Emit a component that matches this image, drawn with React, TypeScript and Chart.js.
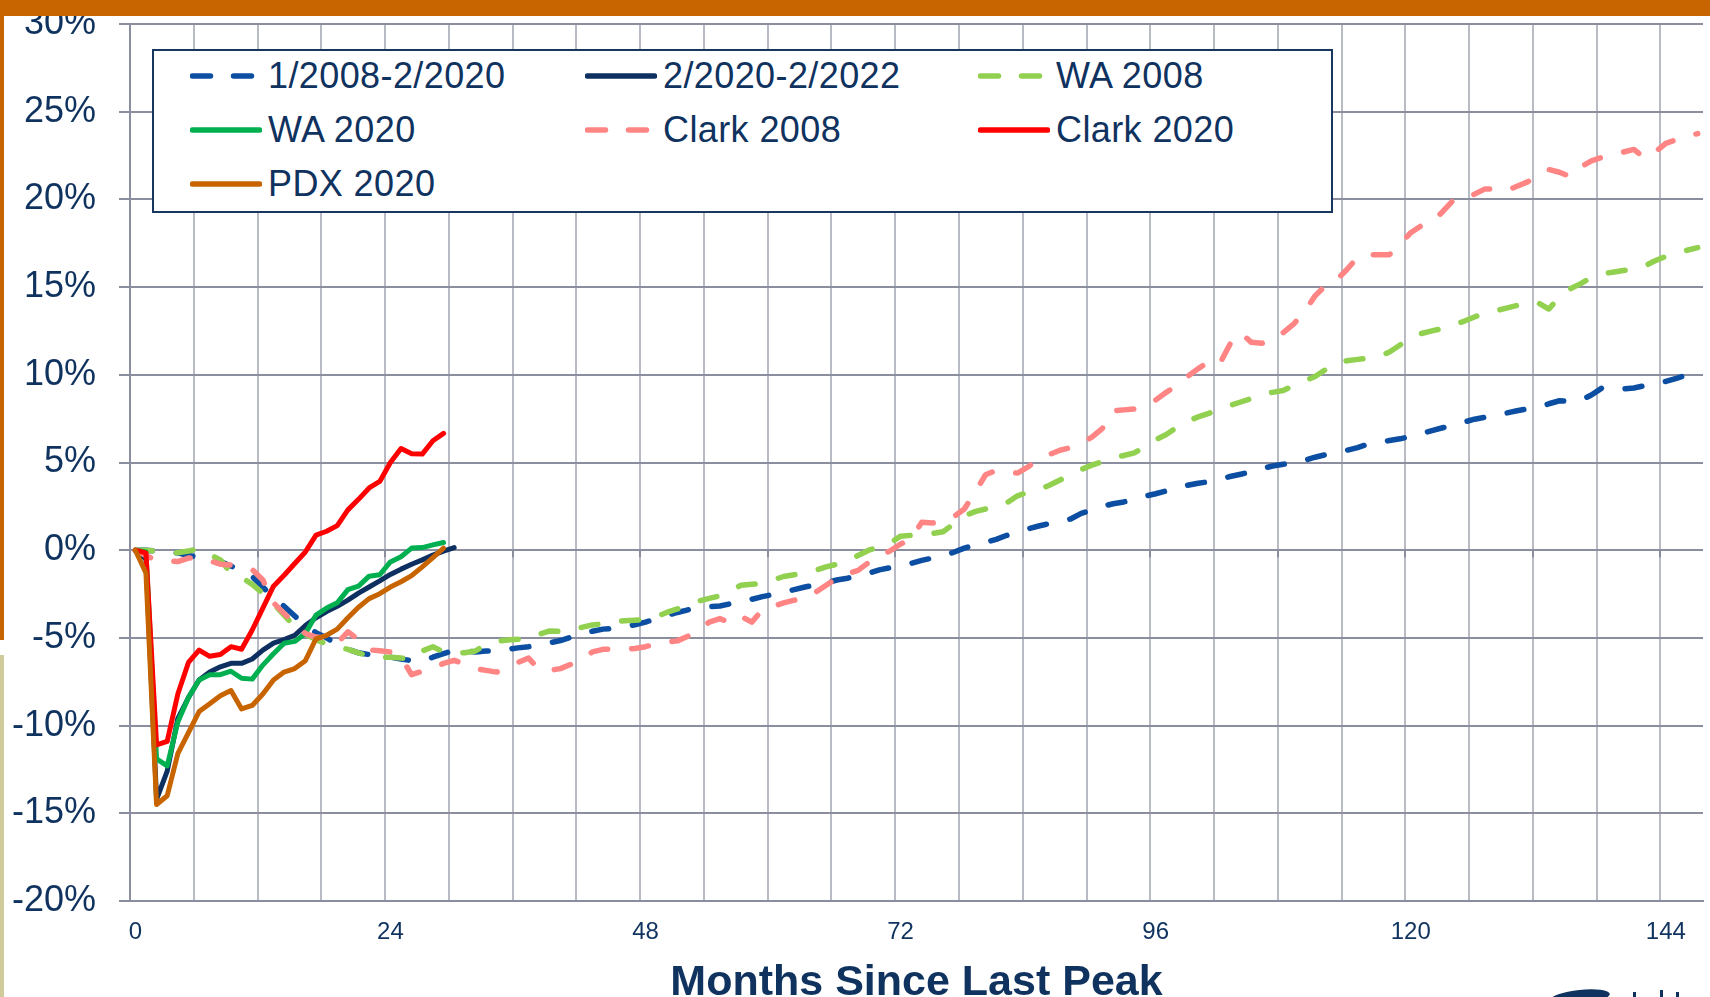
import React, { useEffect, useRef } from 'react';
import { Chart, registerables } from 'chart.js';

Chart.register(...registerables);

const FONT_FAMILY = '"Liberation Sans", Arial, Helvetica, sans-serif';
const TEXT_COLOR = '#0F325F';
const GRID_H = '#8B8E9F';
const GRID_V = '#B8BAC4';

// categories: months since last peak
const MONTHS: string[] = Array.from({ length: 148 }, (_, i) => String(i));
const X_LABEL_STEP = 24;
const X_GRID_STEP = 6;
const ZERO_TICK_STEP = 12;
const Y_MIN = -20;
const Y_MAX = 30;
const Y_STEP = 5;
const X_TITLE = 'Months Since Last Peak';

// % change from prior peak
const US_2008 = [
  0, 0, -0.05, -0.1, -0.15, -0.3, -0.4, -0.5, -0.65, -0.9, -1.2, -1.5,
  -2.1, -2.7, -3.2, -3.75, -4.3, -4.7, -5.0, -5.35, -5.65, -5.85, -5.95, -6.05,
  -6.1, -6.2, -6.3, -6.35, -6.1, -5.9, -5.7, -5.75, -5.8, -5.75, -5.75, -5.65,
  -5.57, -5.5, -5.4, -5.28, -5.15, -4.95, -4.75, -4.62, -4.5, -4.45, -4.38, -4.25,
  -4.1, -3.9, -3.72, -3.55, -3.4, -3.25, -3.22, -3.18, -3.05, -2.95, -2.8, -2.65,
  -2.52, -2.4, -2.25, -2.1, -1.98, -1.86, -1.7, -1.6, -1.45, -1.32, -1.12, -1.0,
  -0.88, -0.75, -0.58, -0.45, -0.3, -0.12, 0.12, 0.3, 0.45, 0.62, 0.85, 1.05,
  1.22, 1.38, 1.52, 1.65, 1.78, 2.1, 2.3, 2.5, 2.65, 2.75, 2.92, 3.08,
  3.22, 3.38, 3.55, 3.7, 3.82, 3.9, 4.05, 4.2, 4.33, 4.47, 4.65, 4.8,
  4.9, 4.98, 5.12, 5.3, 5.45, 5.55, 5.7, 5.85, 6.05, 6.15, 6.25, 6.35,
  6.5, 6.65, 6.82, 6.98, 7.12, 7.3, 7.47, 7.58, 7.68, 7.82, 7.95, 8.06,
  8.15, 8.35, 8.52, 8.48, 8.55, 8.85, 9.25, 9.15, 9.2, 9.25, 9.38, 9.5,
  9.62, 9.8, 10.0, 10.2,
];

const US_2020 = [
  0, -0.5, -14.2, -12.6, -9.6, -8.4, -7.4, -6.95, -6.65, -6.45, -6.45, -6.2,
  -5.7, -5.3, -5.1, -4.85, -4.3, -3.85, -3.5, -3.2, -2.85, -2.45, -2.1, -1.75,
  -1.38, -1.08, -0.8, -0.55, -0.28, -0.05, 0.15,
];

const WA_2008 = [
  0, 0, -0.05, -0.1, -0.15, -0.05, 0.1, -0.25, -0.55, -1.3, -1.55, -1.95,
  -2.45, -3.05, -3.7, -4.35, -4.8, -5.1, -5.35, -5.5, -5.65, -5.85, -6.05, -6.1,
  -6.1, -6.15, -6.2, -5.75, -5.5, -5.8, -5.85, -5.85, -5.75, -5.35, -5.2, -5.12,
  -5.08, -5.04, -4.8, -4.6, -4.63, -4.6, -4.4, -4.26, -4.2, -4.1, -4.02, -3.99,
  -3.96, -3.8, -3.55, -3.35, -3.15, -2.9, -2.75, -2.6, -2.3, -2.0, -1.94, -1.9,
  -1.7, -1.5, -1.4, -1.3, -1.15, -0.95, -0.8, -0.65, -0.3, 0.0, 0.2, 0.4,
  0.8, 0.85, 0.88, 0.95, 1.05, 1.5, 1.95, 2.2, 2.35, 2.45, 2.7, 3.1,
  3.3, 3.45, 3.7, 4.0, 4.3, 4.6, 4.85, 5.05, 5.25, 5.4, 5.55, 5.9,
  6.3, 6.6, 7.0, 7.35, 7.6, 7.8, 8.05, 8.25, 8.45, 8.65, 8.9, 9.0,
  9.1, 9.4, 9.65, 9.9, 10.3, 10.7, 10.8, 10.88, 10.95, 11.03, 11.3, 11.7,
  12.15, 12.35, 12.5, 12.65, 12.85, 13.05, 13.3, 13.5, 13.65, 13.8, 13.95, 14.15,
  14.1, 13.75, 14.45, 14.9, 15.2, 15.55, 15.75, 15.85, 15.95, 16.0, 16.2, 16.5,
  16.75, 16.95, 17.1, 17.25,
];

const WA_2020 = [
  0, -0.1, -11.9, -12.3, -9.8, -8.4, -7.4, -7.1, -7.1, -6.9, -7.3, -7.35,
  -6.55, -5.9, -5.3, -5.2, -4.75, -3.7, -3.3, -3.0, -2.25, -2.05, -1.48, -1.4,
  -0.67, -0.37, 0.12, 0.15, 0.3, 0.44,
];

const CLARK_2008 = [
  0, -0.3, -0.6, -0.6, -0.65, -0.45, -0.4, -0.6, -0.8, -0.85, -0.95, -1.1,
  -1.7, -3.0, -3.6, -4.2, -4.75, -4.95, -5.0, -5.3, -4.65, -5.1, -5.68, -5.73,
  -5.8, -6.1, -7.1, -6.9, -6.75, -6.45, -6.28, -6.5, -6.75, -6.85, -6.95, -6.7,
  -6.4, -6.15, -6.8, -6.85, -6.75, -6.5, -6.2, -5.8, -5.65, -5.65, -5.65, -5.6,
  -5.5, -5.35, -5.25, -5.17, -4.9, -4.55, -4.1, -3.9, -4.15, -3.77, -4.1, -3.4,
  -3.2, -3.0, -2.85, -2.75, -2.4, -2.0, -1.6, -1.35, -1.15, -0.7, -0.3, -0.05,
  0.35, 0.65, 1.6, 1.55, 1.7, 1.9, 2.35, 3.3, 4.3, 4.55, 4.45, 4.4,
  4.75, 5.2, 5.45, 5.7, 5.85, 6.1, 6.45, 6.95, 7.95, 8.0, 8.05, 8.3,
  8.56, 9.0, 9.4, 9.9, 10.35, 10.75, 10.6, 11.75, 12.4, 11.85, 11.8, 11.95,
  12.4, 12.9, 13.6, 14.5, 15.1, 15.4, 16.0, 16.7, 16.85, 16.85, 16.85, 17.45,
  18.1, 18.5, 18.7, 19.3, 19.95, 20.0, 20.3, 20.6, 20.6, 20.5, 20.75, 21.0,
  21.4, 21.7, 21.55, 21.3, 21.85, 22.2, 22.4, 22.55, 22.7, 22.85, 22.35, 22.7,
  23.2, 23.4, 23.6, 23.75,
];

const CLARK_2020 = [
  0, -0.15, -11.1, -10.9, -8.2, -6.4, -5.7, -6.05, -5.95, -5.5, -5.65, -4.55,
  -3.3, -2.05, -1.43, -0.76, -0.1, 0.86, 1.08, 1.4, 2.3, 2.9, 3.55, 3.92,
  5.0, 5.8, 5.5, 5.48, 6.24, 6.66,
];

const PDX_2020 = [
  0, -1.3, -14.5, -14.0, -11.6, -10.4, -9.2, -8.75, -8.3, -8.0, -9.05, -8.85,
  -8.2, -7.4, -6.95, -6.75, -6.3, -5.05, -4.85, -4.5, -3.85, -3.25, -2.76, -2.48,
  -2.1, -1.8, -1.45, -0.95, -0.42, 0.12,
];

type Series = { label: string; data: number[]; color: string; dashed: boolean };

const SERIES: Series[] = [
  { label: '1/2008-2/2020', data: US_2008, color: '#0B4EA2', dashed: true },
  { label: '2/2020-2/2022', data: US_2020, color: '#0E3060', dashed: false },
  { label: 'WA 2008', data: WA_2008, color: '#92D050', dashed: true },
  { label: 'WA 2020', data: WA_2020, color: '#00B050', dashed: false },
  { label: 'Clark 2008', data: CLARK_2008, color: '#FF8585', dashed: true },
  { label: 'Clark 2020', data: CLARK_2020, color: '#FF0000', dashed: false },
  { label: 'PDX 2020', data: PDX_2020, color: '#C86400', dashed: false },
];

const DASH = [17, 24];

// legend layout (page px)
const LEGEND_BOX = { left: 152, top: 49, width: 1181, height: 164 };
const LEGEND_COLS = [190, 585, 978];
const LEGEND_ROWS = [76, 130, 184];

const zeroAxisTicks = {
  id: 'zeroAxisTicks',
  beforeDatasetsDraw(chart: any) {
    const xs = chart.scales.x;
    const ys = chart.scales.y;
    const y0 = ys.getPixelForValue(0);
    const ctx = chart.ctx;
    ctx.save();
    ctx.strokeStyle = GRID_H;
    ctx.lineWidth = 2;
    for (let i = ZERO_TICK_STEP; i < MONTHS.length; i += ZERO_TICK_STEP) {
      const px = Math.round((xs.getPixelForValue(i) + xs.getPixelForValue(i - 1)) / 2);
      ctx.beginPath();
      ctx.moveTo(px, y0);
      ctx.lineTo(px, y0 + 7);
      ctx.stroke();
    }
    ctx.restore();
  },
};

function LegendMarker({ s }: { s: Series }) {
  return (
    <svg width={72} height={12} style={{ display: 'block', flex: '0 0 auto' }}>
      <line
        x1={2.5}
        y1={6}
        x2={69.5}
        y2={6}
        stroke={s.color}
        strokeWidth={5.5}
        strokeLinecap="round"
        strokeDasharray={s.dashed ? '18 23' : undefined}
      />
    </svg>
  );
}

export default function App() {
  const ref = useRef<HTMLCanvasElement>(null);

  useEffect(() => {
    const canvas = ref.current;
    if (!canvas) return;
    const chart = new Chart(canvas, {
      type: 'line',
      data: {
        labels: MONTHS,
        datasets: SERIES.map((s, i) => ({
          label: s.label,
          data: s.data,
          borderColor: s.color,
          backgroundColor: s.color,
          borderWidth: s.dashed ? 5.5 : 5,
          borderDash: s.dashed ? DASH : [],
          borderCapStyle: 'round',
          borderJoinStyle: 'round',
          pointRadius: 0,
          pointHoverRadius: 0,
          tension: 0,
          fill: false,
          order: SERIES.length - i,
        })) as any,
      },
      options: {
        responsive: false,
        animation: false,
        devicePixelRatio: 1,
        events: [],
        layout: { padding: { top: 24, right: 7, bottom: 0, left: 0 } },
        plugins: {
          legend: { display: false },
          tooltip: { enabled: false },
          title: { display: false },
        },
        scales: {
          x: {
            type: 'category',
            offset: true,
            grid: {
              offset: true,
              drawTicks: false,
              lineWidth: 2,
              color: (ctx: any) => (ctx.index % X_GRID_STEP === 0 ? GRID_V : 'rgba(0,0,0,0)'),
            },
            border: { display: true, color: GRID_H, width: 2 },
            ticks: {
              autoSkip: false,
              maxRotation: 0,
              minRotation: 0,
              padding: 17,
              color: TEXT_COLOR,
              font: { family: FONT_FAMILY, size: 24 },
              callback: (_v: any, index: number) => (index % X_LABEL_STEP === 0 ? MONTHS[index] : ''),
            },
            title: {
              display: true,
              text: X_TITLE,
              color: TEXT_COLOR,
              font: { family: FONT_FAMILY, size: 43, weight: 'bold', lineHeight: 0.8 },
              padding: { top: 0, bottom: -3 },
            },
            afterFit: (scale: any) => {
              scale.height = 96;
              scale.paddingLeft = 0;
              scale.paddingRight = 0;
            },
          },
          y: {
            min: Y_MIN,
            max: Y_MAX,
            grid: { color: GRID_H, lineWidth: 2, tickLength: 11, drawTicks: true },
            border: { display: true, color: GRID_H, width: 2 },
            ticks: {
              stepSize: Y_STEP,
              padding: 23,
              color: TEXT_COLOR,
              font: { family: FONT_FAMILY, size: 36 },
              callback: (v: any) => `${v}%`,
            },
            afterFit: (scale: any) => {
              scale.width = 130;
              scale.paddingTop = 0;
              scale.paddingBottom = 0;
            },
          },
        },
      } as any,
      plugins: [zeroAxisTicks as any],
    });
    return () => chart.destroy();
  }, []);

  return (
    <div
      style={{
        position: 'absolute',
        left: 0,
        top: 0,
        width: 1710,
        height: 997,
        overflow: 'hidden',
        background: '#ffffff',
        fontFamily: FONT_FAMILY,
      }}
    >
      <canvas ref={ref} width={1710} height={997} style={{ position: 'absolute', left: 0, top: 0, width: 1710, height: 997 }} />

      <div
        style={{
          position: 'absolute',
          left: LEGEND_BOX.left,
          top: LEGEND_BOX.top,
          width: LEGEND_BOX.width,
          height: LEGEND_BOX.height,
          boxSizing: 'border-box',
          border: '2px solid #17375E',
          background: '#ffffff',
        }}
      />
      {SERIES.map((s, i) => (
        <div
          key={s.label}
          style={{
            position: 'absolute',
            left: LEGEND_COLS[i % 3],
            top: LEGEND_ROWS[Math.floor(i / 3)] - 25,
            height: 50,
            display: 'flex',
            alignItems: 'center',
          }}
        >
          <LegendMarker s={s} />
          <span
            style={{
              marginLeft: 6,
              fontSize: 36,
              lineHeight: '50px',
              color: TEXT_COLOR,
              whiteSpace: 'nowrap',
              letterSpacing: '0.4px',
            }}
          >
            {s.label}
          </span>
        </div>
      ))}

      {/* slide decoration */}
      <div style={{ position: 'absolute', left: 0, top: 0, width: 1710, height: 16, background: '#C96500' }} />
      <div style={{ position: 'absolute', left: 0, top: 0, width: 4, height: 640, background: '#C96500' }} />
      <div style={{ position: 'absolute', left: 0, top: 655, width: 4, height: 342, background: '#CFCB9B' }} />
      <div
        style={{
          position: 'absolute',
          left: 1550,
          top: 990,
          width: 60,
          height: 14,
          borderRadius: '50%',
          background: '#0F325F',
          transform: 'rotate(-6deg)',
        }}
      />
      <div style={{ position: 'absolute', left: 1633, top: 992, width: 3, height: 5, background: '#0F325F' }} />
      <div style={{ position: 'absolute', left: 1660, top: 990, width: 3, height: 7, background: '#0F325F' }} />
      <div style={{ position: 'absolute', left: 1676, top: 992, width: 3, height: 5, background: '#0F325F' }} />
    </div>
  );
}
